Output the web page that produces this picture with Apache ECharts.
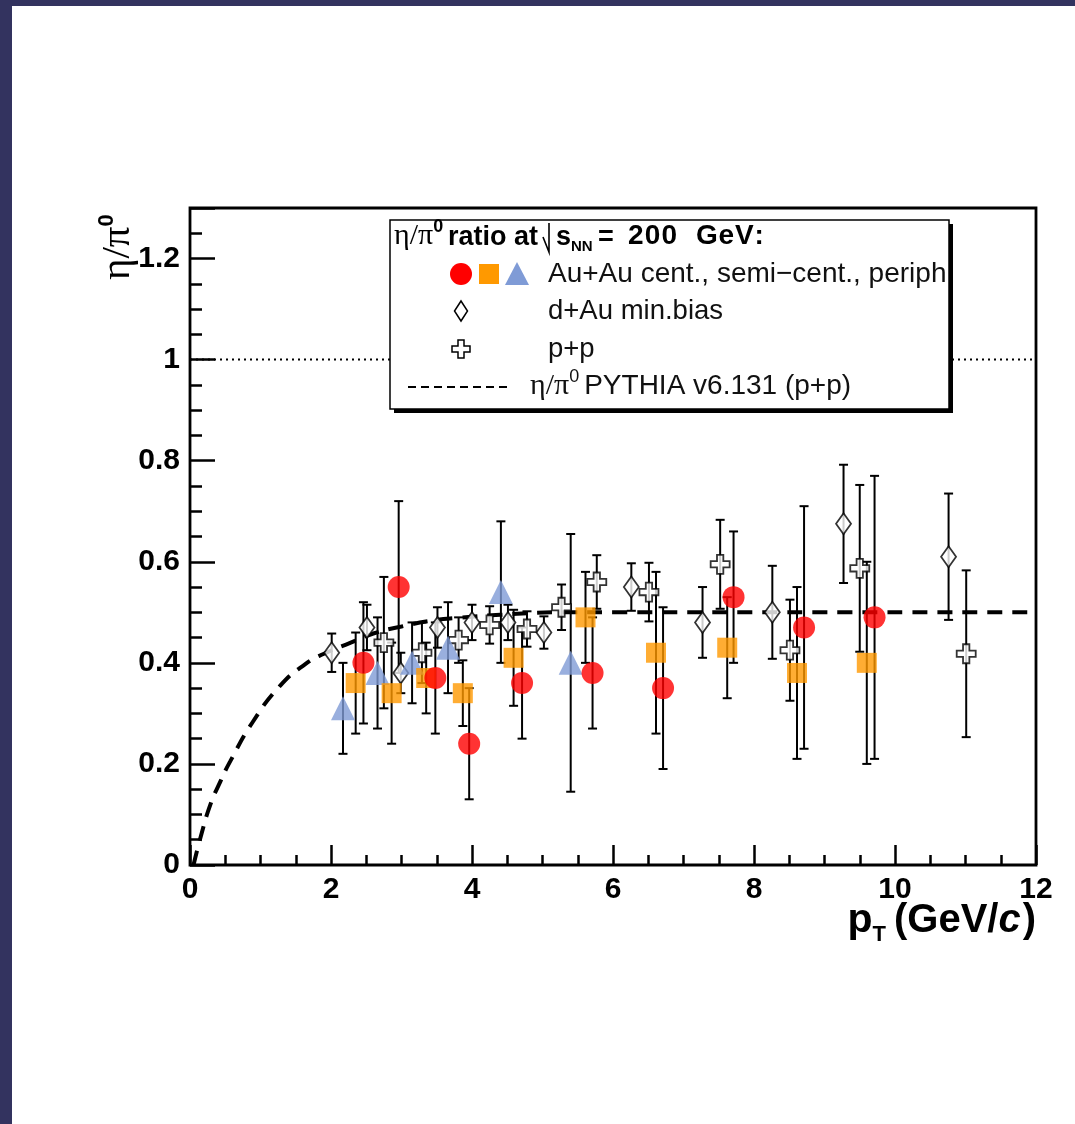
<!DOCTYPE html>
<html>
<head>
<meta charset="utf-8">
<title>eta/pi0 ratio vs pT</title>
<script src="https://cdn.jsdelivr.net/npm/echarts@6/dist/echarts.min.js"></script>
<style>
  html, body { margin: 0; padding: 0; background: #ffffff; }
  #chart { width: 1075px; height: 1124px; }
</style>
</head>
<body>
<div id="chart"></div>
<script>
// ---- eta/pi0 ratio measurements (pT in GeV/c) ----
const auauCentPt    = [2.46, 2.96, 3.48, 3.96, 4.71, 5.71, 6.71, 7.71, 8.71, 9.71];
const auauCentRatio = [0.40, 0.55, 0.37, 0.24, 0.36, 0.38, 0.35, 0.53, 0.47, 0.49];
const auauCentErr   = [0.12, 0.17, 0.11, 0.11, 0.11, 0.11, 0.16, 0.13, 0.24, 0.28];

const auauSemiPt    = [2.35, 2.86, 3.35, 3.87, 4.59, 5.61, 6.61, 7.62, 8.61, 9.60];
const auauSemiRatio = [0.36, 0.34, 0.37, 0.34, 0.41, 0.49, 0.42, 0.43, 0.38, 0.40];
const auauSemiErr   = [0.10, 0.10, 0.07, 0.065, 0.095, 0.09, 0.16, 0.10, 0.17, 0.20];

const auauPeriPt    = [2.17, 2.66, 3.15, 3.66, 4.41, 5.40];
const auauPeriRatio = [0.31, 0.38, 0.40, 0.43, 0.54, 0.40];
const auauPeriErr   = [0.09, 0.11, 0.08, 0.09, 0.14, 0.255];

const dauPt    = [2.01, 2.51, 2.99, 3.51, 4.00, 4.51, 5.02, 6.26, 7.27, 8.26, 9.27, 10.76];
const dauRatio = [0.42, 0.47, 0.38, 0.47, 0.48, 0.48, 0.46, 0.55, 0.48, 0.50, 0.675, 0.61];
const dauErr   = [0.038, 0.045, 0.04, 0.04, 0.035, 0.035, 0.032, 0.047, 0.07, 0.092, 0.117, 0.125];

const ppPt    = [2.75, 3.29, 3.81, 4.25, 4.78, 5.27, 5.77, 6.51, 7.52, 8.51, 9.50, 11.01];
const ppRatio = [0.44, 0.42, 0.445, 0.475, 0.467, 0.51, 0.56, 0.54, 0.595, 0.425, 0.587, 0.418];
const ppErr   = [0.13, 0.06, 0.045, 0.037, 0.035, 0.045, 0.053, 0.058, 0.088, 0.10, 0.165, 0.165];

// PYTHIA v6.131 p+p prediction
const pythiaPt    = [0.05, 0.15, 0.29, 0.43, 0.57, 0.89, 1.28, 1.64, 1.90, 2.28, 2.60, 3.00, 3.45, 3.80, 4.40, 5.25, 6.00, 12.0];
const pythiaRatio = [0.00, 0.055, 0.12, 0.165, 0.205, 0.283, 0.355, 0.398, 0.418, 0.44, 0.458, 0.472, 0.484, 0.489, 0.495, 0.50, 0.50, 0.50];

// unity reference
const unityPt    = [0, 12];
const unityRatio = [1, 1];

// axis ticks
const xTickLabels = [0, 2, 4, 6, 8, 10, 12];
const yTickLabels = [0, 0.2, 0.4, 0.6, 0.8, 1, 1.2];

// ---- layout / style ----
const SANS = '"Liberation Sans", Arial, sans-serif';
const SERIF = '"Liberation Serif", "Times New Roman", serif';
const NAVY = '#33335f';
const RED = '#ff0000', ORANGE = '#ff9900', BLUE = '#7f9bd6';
const GRID = { left: 190, top: 208, width: 846, height: 657 };

const measureCtx = document.createElement('canvas').getContext('2d');
function fontOf(p) {
  return (p.italic ? 'italic ' : '') + (p.bold ? 'bold ' : '') + p.size + 'px ' + (p.family || SANS);
}
function pieceWidth(p) {
  measureCtx.font = fontOf(p);
  if (p.spacing) {
    return Array.from(p.text).reduce((w, ch) => w + measureCtx.measureText(ch).width + p.spacing, 0);
  }
  return measureCtx.measureText(p.text).width;
}
function runWidth(parts) {
  return parts.reduce((w, p) => w + pieceWidth(p) + (p.gap || 0), 0);
}
// lay out a sequence of text pieces along a baseline
function textRun(x0, baseline, parts, color, z) {
  const out = [];
  let x = x0;
  parts.forEach(p => {
    if (p.at !== undefined) x = p.at;
    const f = fontOf(p);
    const chunks = p.spacing ? Array.from(p.text) : [p.text];
    chunks.forEach(t => {
      measureCtx.font = f;
      const w = measureCtx.measureText(t).width;
      out.push({
        type: 'text', z: z || 100,
        style: {
          text: t, x: x, y: baseline + (p.dy || 0) - 0.33 * p.size,
          font: f, fill: color || '#000', textAlign: 'left', textVerticalAlign: 'middle'
        }
      });
      x += w + (p.spacing || 0);
    });
    x += (p.gap || 0);
  });
  return out;
}

function fmtY(v) {
  const r = Math.round(v * 100) / 100;
  return yTickLabels.some(t => Math.abs(t - r) < 1e-6) ? String(r) : '';
}
function fmtX(v) {
  return xTickLabels.indexOf(Math.round(v * 100) / 100) >= 0 ? String(Math.round(v)) : '';
}

function errorBars(pt, val, err) {
  return {
    type: 'custom', xAxisIndex: 0, yAxisIndex: 0, z: 3, silent: true, clip: true,
    encode: { x: 0, y: [1, 2] },
    data: pt.map((x, i) => [x, val[i] - err[i], val[i] + err[i]]),
    renderItem: (params, api) => {
      const lo = api.coord([api.value(0), api.value(1)]);
      const hi = api.coord([api.value(0), api.value(2)]);
      const w = 4.5;
      const st = { stroke: '#000', lineWidth: 2 };
      return {
        type: 'group', children: [
          { type: 'line', shape: { x1: lo[0], y1: lo[1], x2: hi[0], y2: hi[1] }, style: st },
          { type: 'line', shape: { x1: lo[0] - w, y1: lo[1], x2: lo[0] + w, y2: lo[1] }, style: st },
          { type: 'line', shape: { x1: hi[0] - w, y1: hi[1], x2: hi[0] + w, y2: hi[1] }, style: st }
        ]
      };
    }
  };
}
function markers(pt, val, symbol, size, itemStyle) {
  return {
    type: 'scatter', xAxisIndex: 0, yAxisIndex: 0, z: 4, silent: true,
    symbol: symbol, symbolSize: size, itemStyle: itemStyle,
    data: pt.map((x, i) => [x, val[i]])
  };
}
const CROSS_PATH = 'path://M3,0L6,0L6,3L9,3L9,6L6,6L6,9L3,9L3,6L0,6L0,3L3,3Z';
const openStyle = { color: '#ffffff', borderColor: '#000', borderWidth: 1.8 };

// ---- legend box ----
const LG = { x: 390, y: 220, w: 559, h: 189 };
const legendEls = [
  { type: 'rect', z: 98, shape: { x: LG.x + 4, y: LG.y + 4, width: LG.w, height: LG.h }, style: { fill: '#000' } },
  { type: 'rect', z: 99, shape: { x: LG.x, y: LG.y, width: LG.w, height: LG.h }, style: { fill: '#fff', stroke: '#000', lineWidth: 1.5 } }
];
// title line
legendEls.push(...textRun(394, 246, [
  { text: 'η/π', size: 30, family: SERIF },
  { text: '0', size: 18, bold: true, dy: -13 },
  { text: 'ratio at', size: 27, bold: true, at: 448 },
  { text: 's', size: 27, bold: true, at: 556 },
  { text: 'NN', size: 15, bold: true, dy: 6 },
  { text: '=', size: 27, bold: true, at: 598 },
  { text: '200', size: 28, bold: true, spacing: 1.2, at: 628 },
  { text: 'GeV:', size: 28, bold: true, spacing: 0.8, at: 696 }
], '#000'));
// radical sign in front of s
legendEls.push({ type: 'polyline', z: 100, shape: { points: [[543, 237], [549, 252], [549, 223]] }, style: { stroke: '#000', lineWidth: 1.6, fill: null } });
// entry markers
legendEls.push(
  { type: 'circle', z: 100, shape: { cx: 461, cy: 274, r: 11 }, style: { fill: RED } },
  { type: 'rect', z: 100, shape: { x: 479, y: 264, width: 20, height: 20 }, style: { fill: ORANGE } },
  { type: 'polygon', z: 100, shape: { points: [[517, 262], [529, 285], [505, 285]] }, style: { fill: BLUE } },
  { type: 'polygon', z: 100, shape: { points: [[461, 301], [467.5, 311], [461, 321], [454.5, 311]] }, style: { fill: '#fff', stroke: '#000', lineWidth: 1.5 } },
  { type: 'polygon', z: 100, shape: { points: [[458, 340], [464, 340], [464, 346], [470, 346], [470, 352], [464, 352], [464, 358], [458, 358], [458, 352], [452, 352], [452, 346], [458, 346]] }, style: { fill: '#fff', stroke: '#000', lineWidth: 1.5 } },
  { type: 'line', z: 100, shape: { x1: 408, y1: 387, x2: 512, y2: 387 }, style: { stroke: '#000', lineWidth: 2, lineDash: [8, 5] } }
);
legendEls.push({
  type: 'text', z: 100,
  style: {
    text: 'Au+Au cent., semi\u2212cent., periph.', x: 548, y: 274, width: LG.x + LG.w - 548 - 1,
    overflow: 'truncate', ellipsis: '', font: '28px ' + SANS, fill: '#111', textAlign: 'left', textVerticalAlign: 'middle'
  }
});
legendEls.push(...textRun(548, 320, [{ text: 'd+Au min.bias', size: 27.5 }], '#111'));
legendEls.push(...textRun(548, 358, [{ text: 'p+p', size: 27.5 }], '#111'));
legendEls.push(...textRun(530, 396, [
  { text: 'η/π', size: 30, family: SERIF },
  { text: '0', size: 18, dy: -13, gap: 5 },
  { text: 'PYTHIA v6.131 (p+p)', size: 28 }
], '#111'));

// ---- axis titles ----
const xTitleParts = [
  { text: 'p', size: 41, bold: true },
  { text: 'T', size: 22, bold: true, dy: 8, gap: 8 },
  { text: '(GeV/', size: 40, bold: true },
  { text: 'c', size: 40, bold: true, italic: true, gap: 2 },
  { text: ')', size: 40, bold: true }
];
const xTitleEls = textRun(GRID.left + GRID.width - runWidth(xTitleParts), 934, xTitleParts, '#000');
const yTitleGroup = {
  type: 'group', x: 132, y: 280, rotation: Math.PI / 2,
  children: textRun(0, 0, [
    { text: 'η/π', size: 41, family: SERIF },
    { text: '0', size: 22, bold: true, dy: -18 }
  ], '#000')
};

const frameBorder = [
  { type: 'rect', z: 0, shape: { x: 0, y: 0, width: 1075, height: 6 }, style: { fill: NAVY } },
  { type: 'rect', z: 0, shape: { x: 0, y: 0, width: 12, height: 1124 }, style: { fill: NAVY } }
];

const tickLine = { color: '#000', width: 2.5 };
const option = {
  backgroundColor: '#ffffff',
  animation: false,
  grid: [
    Object.assign({ show: true, borderColor: '#000', borderWidth: 2.8, backgroundColor: 'transparent' }, GRID),
    Object.assign({ show: false }, GRID)
  ],
  xAxis: [
    {
      type: 'value', gridIndex: 0, min: 0, max: 12, interval: 2,
      axisLine: { show: false },
      axisTick: { show: true, inside: true, length: 20, lineStyle: tickLine },
      minorTick: { show: true, splitNumber: 4, length: 10, lineStyle: tickLine },
      splitLine: { show: false }, minorSplitLine: { show: false },
      axisLabel: { formatter: fmtX, color: '#000', fontFamily: SANS, fontWeight: 'bold', fontSize: 30, margin: 10 }
    },
    { type: 'value', gridIndex: 1, min: 0, max: 12, show: false }
  ],
  yAxis: [
    {
      type: 'value', gridIndex: 0, min: 0, max: 1.3, interval: 0.2,
      axisLine: { show: false },
      axisTick: { show: true, inside: true, length: 25, lineStyle: tickLine },
      splitLine: { show: false },
      axisLabel: { formatter: fmtY, color: '#000', fontFamily: SANS, fontWeight: 'bold', fontSize: 30, margin: 10 }
    },
    {
      type: 'value', gridIndex: 1, min: 0, max: 1.3, interval: 0.05,
      axisLine: { show: false },
      axisTick: { show: true, inside: true, length: 12, lineStyle: tickLine },
      axisLabel: { show: false }, splitLine: { show: false }
    }
  ],
  graphic: { elements: frameBorder.concat(legendEls, xTitleEls, [yTitleGroup]) },
  series: [
    {
      type: 'line', xAxisIndex: 0, yAxisIndex: 0, z: 1, silent: true, showSymbol: false,
      data: unityPt.map((x, i) => [x, unityRatio[i]]),
      lineStyle: { color: '#000', width: 2, type: [2, 4] }
    },
    {
      type: 'line', xAxisIndex: 0, yAxisIndex: 0, z: 2, silent: true, showSymbol: false,
      smooth: 0.5,
      data: pythiaPt.map((x, i) => [x, pythiaRatio[i]]),
      lineStyle: { color: '#000', width: 4, type: [15, 10] }
    },
    errorBars(dauPt, dauRatio, dauErr),
    errorBars(ppPt, ppRatio, ppErr),
    errorBars(auauPeriPt, auauPeriRatio, auauPeriErr),
    errorBars(auauSemiPt, auauSemiRatio, auauSemiErr),
    errorBars(auauCentPt, auauCentRatio, auauCentErr),
    markers(dauPt, dauRatio, 'diamond', [15, 21], openStyle),
    markers(ppPt, ppRatio, CROSS_PATH, 19, openStyle),
    markers(auauPeriPt, auauPeriRatio, 'triangle', 24, { color: BLUE }),
    markers(auauSemiPt, auauSemiRatio, 'rect', 20, { color: ORANGE }),
    markers(auauCentPt, auauCentRatio, 'circle', 22, { color: RED })
  ]
};

const chart = echarts.init(document.getElementById('chart'), null, { renderer: 'canvas' });
chart.setOption(option);
</script>
</body>
</html>
